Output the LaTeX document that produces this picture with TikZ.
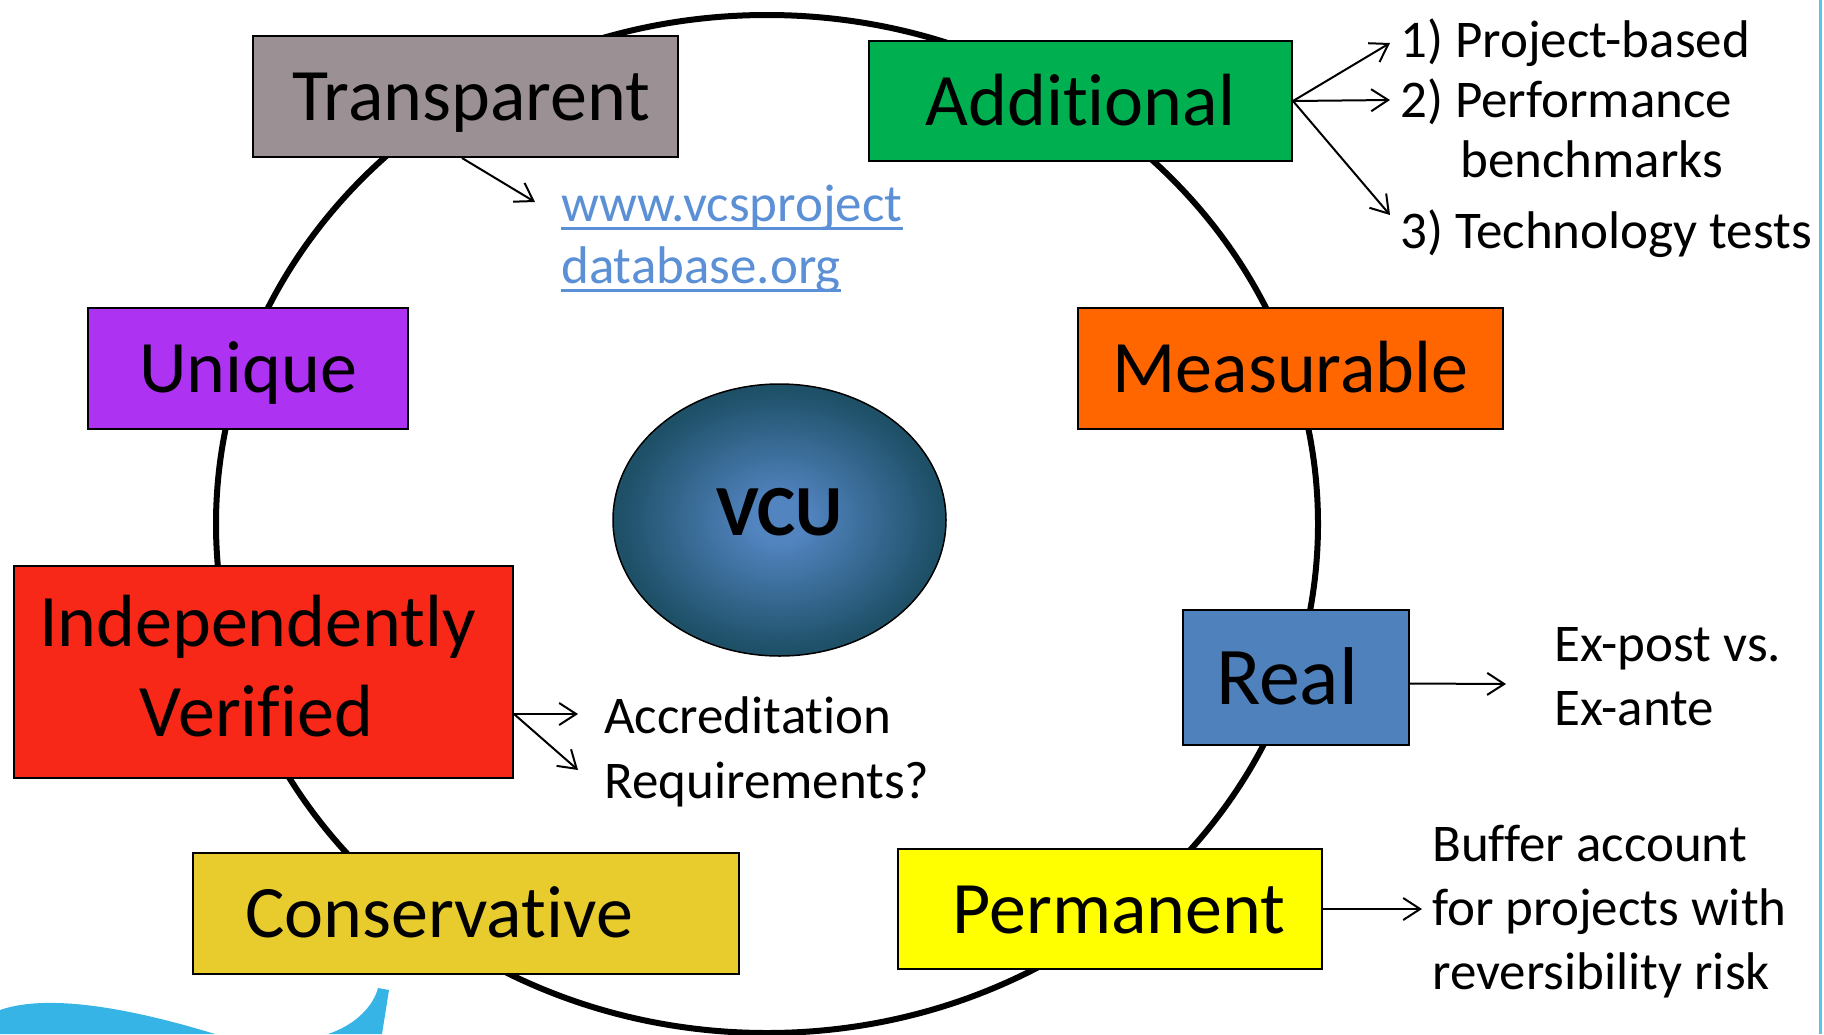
\documentclass[tikz,border=0pt]{standalone}
\usepackage{fontspec}
\setmainfont{Carlito}[Ligatures=NoCommon]
\usetikzlibrary{shapes.geometric,arrows.meta}
\definecolor{cTrans}{RGB}{155,145,148}
\definecolor{cAdd}{RGB}{0,176,80}
\definecolor{cUniq}{RGB}{173,50,242}
\definecolor{cMeas}{RGB}{255,102,0}
\definecolor{cIV}{RGB}{247,40,23}
\definecolor{cReal}{RGB}{79,129,189}
\definecolor{cCons}{RGB}{232,204,45}
\definecolor{cPerm}{RGB}{255,255,0}
\definecolor{cURL}{RGB}{91,143,214}
\definecolor{cSwoosh}{RGB}{53,180,229}
\definecolor{vcuin}{RGB}{82,132,192}
\definecolor{vcuout}{RGB}{30,80,104}
\pgfdeclareradialshading{vcushade}{\pgfpoint{0bp}{0bp}}{color(0bp)=(vcuin); color(4bp)=(vcuin); color(24bp)=(vcuout); color(50bp)=(vcuout)}
\begin{document}
\begin{tikzpicture}[x=1pt,y=-1pt,
  box/.style={draw=black, line width=2pt, rectangle, inner sep=0pt, anchor=center,
    font=\fontsize{74}{90}\selectfont, text height=48pt, text depth=0pt},
  small/.style={font=\fontsize{53}{64}\selectfont, inner sep=0pt, anchor=base west},
  arr/.style={line width=2pt, -{Straight Barb[length=17pt,width=22pt,line width=2pt]}},
  ring/.style={line width=6pt, draw=black}]
\useasboundingbox (0,0) rectangle (1824,1034);
% background ring
\draw[ring] (767,524) ellipse [x radius=551, y radius=509];
% decorative swoosh and right edge
\fill[cSwoosh] (0,1034) -- (0,1010) .. controls (40,996) and (110,1002) .. (215,1034) -- cycle;
\fill[cSwoosh] (328,1034) .. controls (358,1024) and (374,1004) .. (378,988) -- (389,990) -- (382,1034) -- cycle;
\draw[cSwoosh!80!white, line width=3pt] (1820,0) -- (1820,1034);
% centre
\node[ellipse, draw=black, line width=1.5pt, shading=vcushade, minimum width=333pt, minimum height=272pt,
  inner sep=0pt, font=\bfseries\fontsize{72}{80}\selectfont, text height=46pt, text depth=16pt] (vcu) at (779.5,520) {VCU};
% boxes
\node[box, fill=cTrans, minimum width=425pt, minimum height=121pt] (trans) at (465.5,96.5) {\hspace*{12pt}Transparent};
\node[box, fill=cAdd, minimum width=423pt, minimum height=120pt] (add) at (1080.5,101) {Additional};
\node[box, fill=cUniq, minimum width=320pt, minimum height=121pt] (uniq) at (248,368.5) {Unique};
\node[box, fill=cMeas, minimum width=425pt, minimum height=121pt] (meas) at (1290.5,368.5) {Measurable};
\node[box, fill=cIV, minimum width=499pt, minimum height=212pt, align=center, text height=, text depth=] (iv) at (263.5,672) {Independently\hspace*{12pt}\\Verified\hspace*{14pt}\rule[-12pt]{0pt}{1pt}};
\node[box, fill=cReal, minimum width=226pt, minimum height=135pt, font=\fontsize{82}{96}\selectfont, text height=53pt] (real) at (1296,677.5) {Real\hspace*{18pt}};
\node[box, fill=cCons, minimum width=546pt, minimum height=121pt] (cons) at (466,913.5) {Conservative\hspace*{54pt}};
\node[box, fill=cPerm, minimum width=424pt, minimum height=120pt] (perm) at (1110,909) {\hspace*{18pt}Permanent};
% side texts
\node[small] (a1) at (1400,57) {1) Project-based};
\node[small] (a2) at (1400,117) {2) Performance};
\node[small] (a2b) at (1460,177) {benchmarks};
\node[small] (a3) at (1400,248) {3) Technology tests};
\node[small, text=cURL] (url1) at (561,221) {www.vcsproject};
\node[small, text=cURL] (url2) at (561,283) {database.org};
\draw[cURL, line width=3pt] ([yshift=-7pt]url1.base west) -- ([yshift=-7pt]url1.base east);
\draw[cURL, line width=3pt] ([yshift=-7pt]url2.base west) -- ([yshift=-7pt]url2.base east);
\node[small] (acc1) at (604,733) {Accreditation};
\node[small] (acc2) at (604,798) {Requirements?};
\node[small] (ex1) at (1554,661) {Ex-post vs.};
\node[small] (ex2) at (1554,725) {Ex-ante};
\node[small] (buf1) at (1432,861) {Buffer account};
\node[small] (buf2) at (1432,925) {for projects with};
\node[small] (buf3) at (1432,989) {reversibility risk};
% arrow end points
\coordinate (eT) at (535,202);
\coordinate (eA1) at (1390,43);
\coordinate (eA2) at (1390,100);
\coordinate (eA3) at (1390,215);
\coordinate (eI1) at (578,714);
\coordinate (eI2) at (578,770);
\coordinate (eR) at (1506,684);
\coordinate (eP) at (1422,909);
% connectors
\draw[arr] ([xshift=210pt]trans.south west) -- (eT);
\draw[arr] (add.east) -- (eA1);
\draw[arr] (add.east) -- (eA2);
\draw[arr] (add.east) -- (eA3);
\draw[arr] ([yshift=-42pt]iv.east) -- (eI1);
\draw[arr] ([yshift=-42pt]iv.east) -- (eI2);
\draw[arr] ([yshift=-6pt]real.east) -- (eR);
\draw[arr] (perm.east) -- (eP);
\end{tikzpicture}
\end{document}
